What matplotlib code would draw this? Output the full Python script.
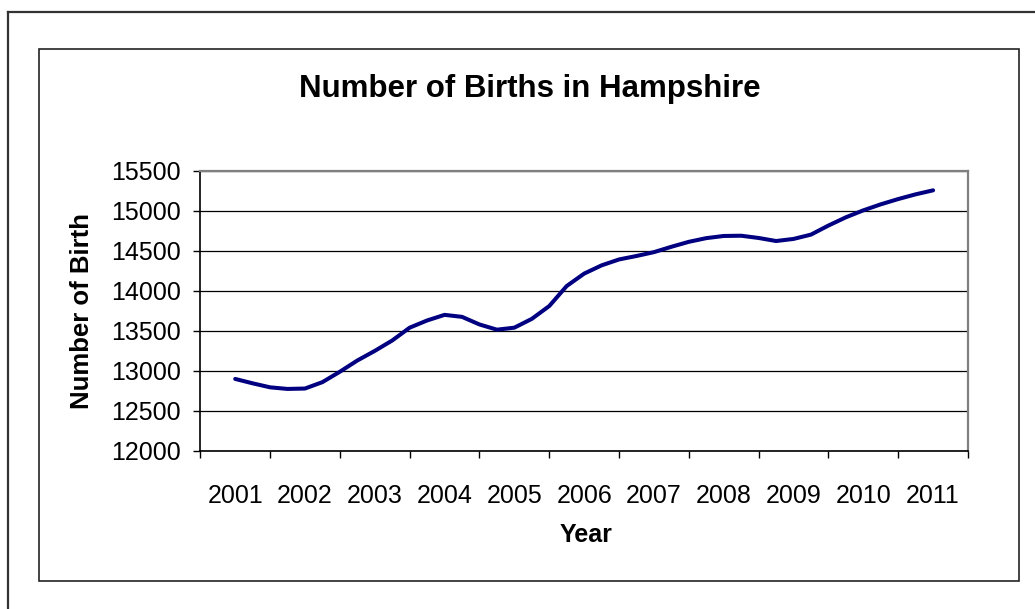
import matplotlib
matplotlib.use("Agg")
import matplotlib.pyplot as plt
from matplotlib.lines import Line2D
from matplotlib.patches import Rectangle
import numpy as np

plt.rcParams['font.family'] = ['Liberation Sans', 'DejaVu Sans']

# Quarterly positions (year)
positions = [2001 + 0.25 * k for k in range(41)]
births = [12900, 12845, 12795, 12775, 12780, 12860, 12990, 13130, 13250, 13380,
          13540, 13630, 13700, 13675, 13580, 13515, 13540, 13650, 13810, 14060,
          14215, 14318, 14392, 14435, 14483, 14550, 14612, 14658, 14685, 14688,
          14660, 14622, 14648, 14702, 14815, 14918, 15005, 15080, 15146, 15205,
          15255]
years = [str(y) for y in range(2001, 2012)]
yticks = [12000, 12500, 13000, 13500, 14000, 14500, 15000, 15500]

W, H = 1035, 609
fig = plt.figure(figsize=(W / 100, H / 100), dpi=100)
fig.patch.set_facecolor('white')

# Outer borders (image is cropped at right/bottom)
fig.add_artist(Line2D([8 / W, 1.0], [1 - 12 / H, 1 - 12 / H], color='#333333', lw=1.6,
                      transform=fig.transFigure))
fig.add_artist(Line2D([8 / W, 8 / W], [1 - 12 / H, 0.0], color='#333333', lw=1.6,
                      transform=fig.transFigure))
# Chart area box
fig.add_artist(Rectangle((39 / W, 1 - 580.7 / H), (1019 - 39) / W, (580.7 - 48.5) / H,
                         fill=False, edgecolor='#222222', lw=1.2, transform=fig.transFigure))

left, right, top, bottom = 200.3, 968, 170.7, 451
ax = fig.add_axes([left / W, 1 - bottom / H, (right - left) / W, (bottom - top) / H])

ax.plot(positions, births, color='#000080', lw=2.9, solid_capstyle='round',
        solid_joinstyle='round', zorder=3)

ax.set_xlim(2000.5, 2011.5)
ax.set_ylim(12000, 15500)
ax.set_yticks(yticks)
ax.set_yticklabels([str(v) for v in yticks], fontsize=18)
ax.grid(axis='y', color='#000000', lw=0.9)
ax.set_axisbelow(True)

# category boundaries get tick marks; labels centered
ax.set_xticks(np.arange(2000.5, 2012.0, 1.0))
ax.set_xticklabels([])
ax.set_xticks(np.arange(2001, 2012, 1), minor=True)
ax.set_xticklabels(years, minor=True, fontsize=18)
ax.tick_params(axis='x', which='major', direction='out', length=5, width=1, color='#000000')
ax.tick_params(axis='x', which='minor', length=0, pad=24)
ax.tick_params(axis='y', direction='out', length=5, width=1, pad=9, color='#000000')

for s in ['left', 'bottom']:
    ax.spines[s].set_color('#000000')
    ax.spines[s].set_linewidth(1.2)
for s in ['top', 'right']:
    ax.spines[s].set_color('#808080')
    ax.spines[s].set_linewidth(1.6)

fig.text(530 / W, 1 - 89 / H, 'Number of Births in Hampshire', ha='center', va='center',
         fontsize=22.5, fontweight='bold')
fig.text(82 / W, 1 - 311 / H, 'Number of Birth', ha='center', va='center', rotation=90,
         fontsize=18.5, fontweight='bold')
fig.text(586 / W, 1 - 535 / H, 'Year', ha='center', va='center', fontsize=18,
         fontweight='bold')

fig.savefig('out.png', dpi=100)
